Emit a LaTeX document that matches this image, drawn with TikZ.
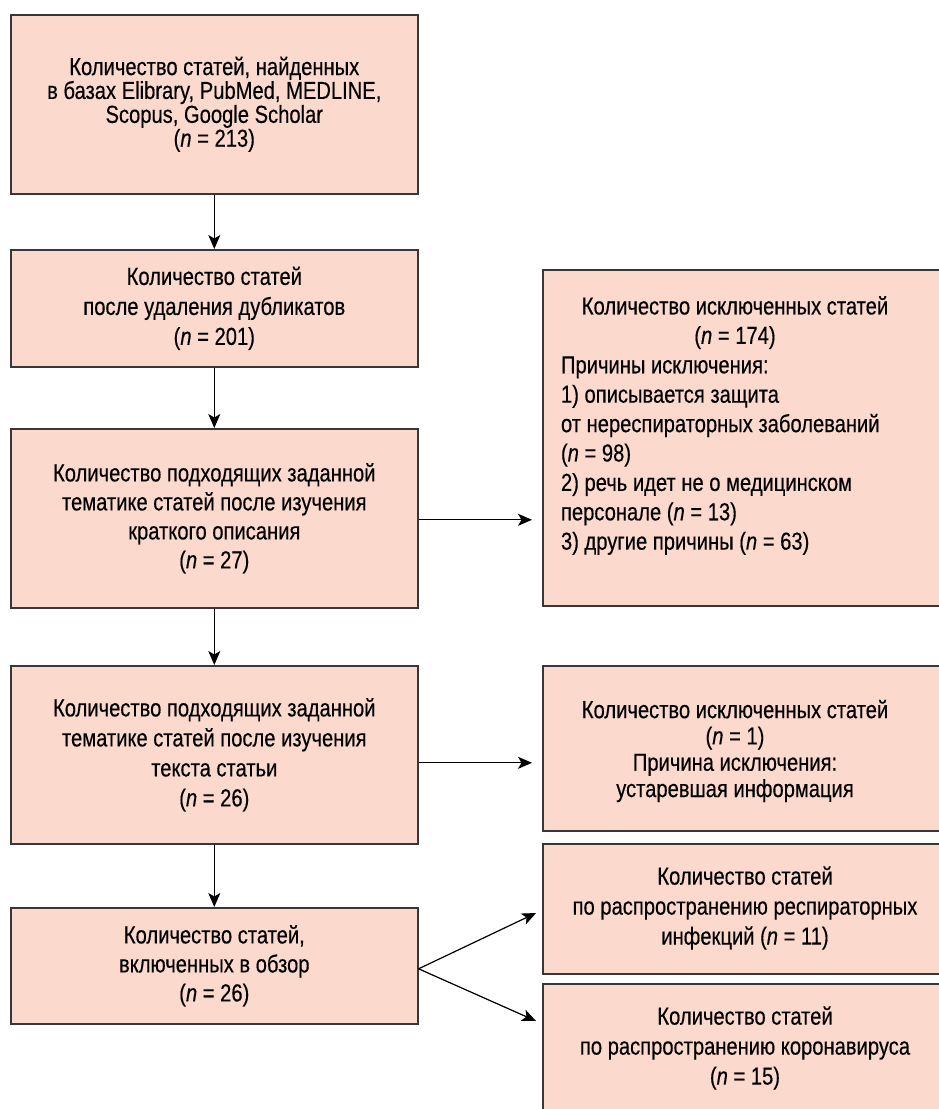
\documentclass[tikz,border=0pt]{standalone}
\usepackage{fontspec}
\setmainfont{Liberation Sans}[FakeStretch=0.82,FakeBold=0.35]
\usetikzlibrary{arrows.meta,calc}
\definecolor{boxfill}{RGB}{251,217,204}
\definecolor{boxline}{RGB}{55,55,55}
\newcommand{\fsz}{24.6}
\begin{document}
\begin{tikzpicture}[x=1pt,y=-1pt,
  box/.style={draw=boxline, fill=boxfill, line width=1.6pt, rectangle, anchor=north west,
              inner sep=0pt, align=center, font=\fontsize{\fsz}{30}\selectfont},
  arr/.style={-{Stealth[length=14pt,width=12pt,inset=3.5pt]}, line width=1.2pt, black},
  txt/.style={inner sep=0pt, align=center}]
\useasboundingbox (0,0) rectangle (939,1109);
\fill[white] (0,0) rectangle (939,1109);
\clip (0,0) rectangle (939,1109);

% left column
\node[box, minimum width=407pt, minimum height=179pt, font=\fontsize{\fsz}{23.9}\selectfont] (b1) at (10,14)
  {Количество статей, найденных\\в базах Elibrary, PubMed, MEDLINE,\\Scopus, Google Scholar\\(\textit{n} = 213)};
\node[box, minimum width=407pt, minimum height=117pt] (b2) at (10,249)
  {Количество статей\\после удаления дубликатов\\(\textit{n} = 201)};
\node[box, minimum width=407pt, minimum height=179pt, font=\fontsize{\fsz}{29}\selectfont] (b3) at (10,428)
  {Количество подходящих заданной\\тематике статей после изучения\\краткого описания\\(\textit{n} = 27)};
\node[box, minimum width=407pt, minimum height=178pt] (b4) at (10,665)
  {Количество подходящих заданной\\тематике статей после изучения\\текста статьи\\(\textit{n} = 26)};
\node[box, minimum width=407pt, minimum height=116pt, font=\fontsize{\fsz}{29}\selectfont] (b5) at (10,907)
  {Количество статей,\\включенных в обзор\\(\textit{n} = 26)};

% right column
\node[box, minimum width=420pt, minimum height=336pt] (r1) at (542,269) {};
\node[box, minimum width=420pt, minimum height=165pt] (r2) at (542,665) {};
\node[box, minimum width=420pt, minimum height=130pt] (r3) at (542,843) {};
\node[box, minimum width=420pt, minimum height=150pt] (r4) at (542,983) {};

\node[txt, text width=348pt, align=flush left, font=\fontsize{\fsz}{29.4}\selectfont] (r1t) at (735,425.5)
  {\makebox[348pt][c]{Количество исключенных статей}\\
   \makebox[348pt][c]{(\textit{n} = 174)}\\
   Причины исключения:\\
   1) описывается защита\\
   от нереспираторных заболеваний\\
   (\textit{n} = 98)\\
   2) речь идет не о медицинском\\
   персонале (\textit{n} = 13)\\
   3) другие причины (\textit{n} = 63)};
\node[txt, font=\fontsize{\fsz}{26.3}\selectfont] (r2t) at (735,751)
  {Количество исключенных статей\\(\textit{n} = 1)\\Причина исключения:\\устаревшая информация};
\node[txt, font=\fontsize{\fsz}{30}\selectfont] (r3t) at (745,908)
  {Количество статей\\по распространению респираторных\\инфекций (\textit{n} = 11)};
\node[txt, font=\fontsize{\fsz}{30}\selectfont] (r4t) at (745,1048)
  {Количество статей\\по распространению коронавируса\\(\textit{n} = 15)};

% connectors
\draw[arr] (b1.south) -- (b2.north);
\draw[arr] (b2.south) -- (b3.north);
\draw[arr] (b3.south) -- (b4.north);
\draw[arr] (b4.south) -- (b5.north);

\coordinate (a3) at ([yshift=-1.5pt]b3.east);
\draw[arr, shorten >=10pt] (a3) -- (a3 -| r1.west);
\coordinate (a4) at ([yshift=-8pt]b4.east);
\draw[arr, shorten >=10pt] (a4) -- (a4 -| r2.west);

\coordinate (a5) at ([yshift=-3pt]b5.east);
\coordinate (t3) at ($(r3.north west)+(-6,70)$);
\coordinate (t4) at ($(r4.north west)+(-6,38)$);
\draw[arr] (a5) -- (t3);
\draw[arr] (a5) -- (t4);
\end{tikzpicture}
\end{document}
